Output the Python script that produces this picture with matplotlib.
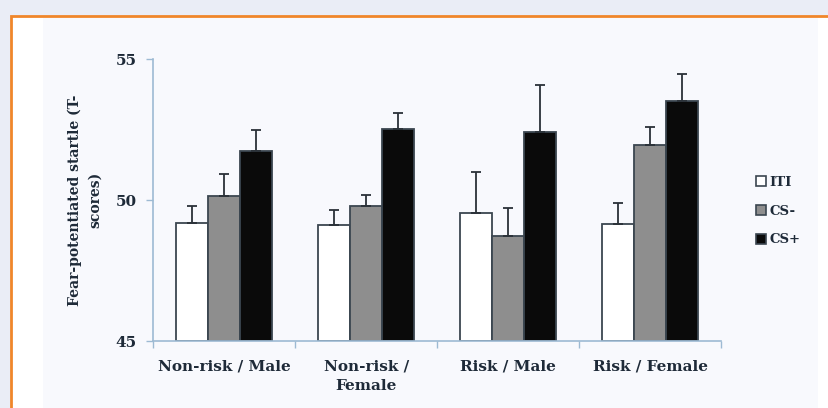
import numpy as np
import matplotlib
matplotlib.use('Agg')
import matplotlib.pyplot as plt
from matplotlib.patches import Rectangle, Patch

# data (T-scores), error = upper bar length
categories = ['Non-risk / Male', 'Non-risk /\nFemale', 'Risk / Male', 'Risk / Female']
series = ['ITI', 'CS-', 'CS+']
iti = [49.21, 49.12, 49.54, 49.16]
cs_minus = [50.16, 49.81, 48.74, 51.96]
cs_plus = [51.76, 52.53, 52.43, 53.53]
iti_err = [0.60, 0.54, 1.47, 0.75]
cs_minus_err = [0.76, 0.38, 1.00, 0.63]
cs_plus_err = [0.72, 0.56, 1.66, 0.95]
yticks = [45, 50, 55]

font = 11
txt_col = '#1e2a38'
axis_col = '#9dbad3'
serif = ['DejaVu Serif']

fig = plt.figure(figsize=(8.29, 4.08), dpi=100)
fig.patch.set_facecolor('#eaedf6')

# orange frame and light panel behind the chart
fig.patches.append(Rectangle((11.3/829, -0.2), 2.0, (408-16)/408 + 0.2,
                             transform=fig.transFigure, facecolor='white',
                             edgecolor='#f0862a', lw=2.0, zorder=-2))
fig.patches.append(Rectangle((43/829, -0.2), (818-43)/829, (408-18)/408 + 0.2,
                             transform=fig.transFigure, facecolor='#f8f9fd',
                             edgecolor='none', zorder=-1))

ax1 = fig.add_axes([153.3/829, (408-341.3)/408, (721-153.3)/829, (341.3-59.3)/408])
ax1.set_facecolor('none')

x = np.arange(len(categories))
w = 0.225
colors = ['white', '#8e8e8e', '#0a0a0a']
vals = [iti, cs_minus, cs_plus]
errs = [iti_err, cs_minus_err, cs_plus_err]
for i in range(3):
    pos = x + (i - 1) * w
    ax1.bar(pos, np.array(vals[i]) - 45, bottom=45, width=w, color=colors[i],
            edgecolor='#3b4650', linewidth=1.3, label=series[i], zorder=2)
    ax1.errorbar(pos, vals[i], yerr=[np.zeros(4), errs[i]], fmt='none',
                 ecolor='#2a3138', elinewidth=1.3, capsize=3.5, capthick=1.3, zorder=3)

ax1.set_xlim(-0.5, 3.5)
ax1.set_ylim(45, 55)
ax1.set_yticks(yticks)
ax1.set_yticklabels([str(t) for t in yticks], fontsize=font, fontweight='bold',
                    family=serif, color=txt_col)
ax1.set_xticks(np.arange(-0.5, 4, 1))
ax1.set_xticklabels([])
ax1.set_xticks(x, minor=True)
ax1.set_xticklabels(categories, minor=True, fontsize=font, fontweight='bold',
                    family=serif, color=txt_col, linespacing=1.5)
ax1.tick_params(axis='x', which='minor', length=0, pad=13)
ax1.tick_params(axis='x', which='major', length=5, color=axis_col, width=1)
ax1.tick_params(axis='y', length=5, color=axis_col, width=1, pad=7)
for s in ['top', 'right']:
    ax1.spines[s].set_visible(False)
for s in ['left', 'bottom']:
    ax1.spines[s].set_color(axis_col)
    ax1.spines[s].set_linewidth(1.2)

ax1.set_ylabel('Fear-potentiated startle (T-\nscores)', fontsize=10, fontweight='bold',
               family=serif, color=txt_col, linespacing=1.5, labelpad=10)

handles = [Patch(facecolor=colors[i], edgecolor='#3b4650', linewidth=1.2) for i in range(3)]
leg = fig.legend(handles, series, loc='center left', bbox_to_anchor=(744/829, 1 - 211/408),
                 frameon=False, handlelength=0.75, handleheight=0.75, handletextpad=0.3,
                 labelspacing=1.2, prop={'family': serif, 'weight': 'bold', 'size': 9.5})
for t in leg.get_texts():
    t.set_color(txt_col)

plt.savefig('out.png', dpi=100, facecolor=fig.get_facecolor())
